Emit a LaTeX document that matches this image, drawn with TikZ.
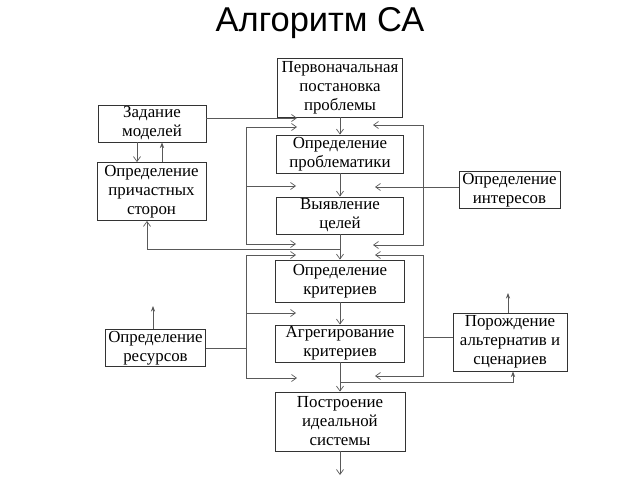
\documentclass[tikz,border=0pt]{standalone}
\usepackage{fontspec}
\setmainfont{Liberation Serif}
\newfontfamily\titlefont{Liberation Sans}
\usetikzlibrary{arrows.meta,positioning}

\begin{document}
\begin{tikzpicture}[
            x=0.025cm, y=-0.025cm,
            box/.style={draw=black!80, line width=0.6pt, inner sep=1pt, align=center,
              font=\fontsize{12}{13.5}\selectfont},
            link/.style={draw=black!65, line width=0.5pt},
            >={Straight Barb[length=3.5pt,width=5pt]},
            up/.style={-{Stealth[length=4pt,width=3pt]}}
          ]
          \useasboundingbox (0,0) rectangle (640,480);

          % Title
          \node (title) at (320,23) {\titlefont\fontsize{24.5}{28}\selectfont Алгоритм СА};

          % Nodes
          \node[box, minimum width=3.125cm, minimum height=1.475cm] (init) at (340,87.5) {Первоначальная\\постановка\\проблемы};
          \node[box, minimum width=3.175cm, minimum height=0.95cm] (probl) at (340,154) {Определение\\проблематики};
          \node[box, minimum width=3.175cm, minimum height=0.925cm] (goals) at (340,215.5) {Выявление\\целей};
          \node[box, minimum width=3.225cm, minimum height=1.05cm] (crit) at (340,281) {Определение\\критериев};
          \node[box, minimum width=3.225cm, minimum height=0.925cm] (aggr) at (340,343.5) {Агрегирование\\критериев};
          \node[box, minimum width=3.25cm, minimum height=1.475cm] (ideal) at (340,421.5) {Построение\\идеальной\\системы};

          \node[box, minimum width=2.7cm, minimum height=0.925cm] (models) at (152,123.5) {Задание\\моделей};
          \node[box, minimum width=2.725cm, minimum height=1.45cm] (parties) at (151.5,191.5) {Определение\\причастных\\сторон};
          \node[box, minimum width=2.5cm, minimum height=0.925cm] (resources) at (155.5,348) {Определение\\ресурсов};
          \node[box, minimum width=2.525cm, minimum height=0.925cm] (interests) at (509.5,190) {Определение\\интересов};
          \node[box, minimum width=2.85cm, minimum height=1.45cm] (altern) at (510,342) {Порождение\\альтернатив и\\сценариев};

          % Coordinates
          \coordinate (lu1) at (246,127);
          \coordinate (lu2) at (246,186);
          \coordinate (lu3) at (246,244);
          \coordinate (la1) at (297,127);
          \coordinate (la2) at (296,186);
          \coordinate (la3) at (296,244);
          \coordinate (ru1) at (423,125);
          \coordinate (ru3) at (423,245);
          \coordinate (ra1) at (373,125);
          \coordinate (ra3) at (373,245);
          \coordinate (ll1) at (246,255);
          \coordinate (ll2) at (246,313);
          \coordinate (ll3) at (246,378);
          \coordinate (lb1) at (296,255);
          \coordinate (lb2) at (296,313);
          \coordinate (lb3) at (297,378);
          \coordinate (rl1) at (423,255);
          \coordinate (rl3) at (423,376);
          \coordinate (rb1) at (375,255);
          \coordinate (rb3) at (375,376);
          \coordinate (m1) at (297,118);
          \coordinate (md) at (137,0);
          \coordinate (mu) at (162,0);
          \coordinate (pb) at (147,249);
          \coordinate (i1) at (375,187);
          \coordinate (a1) at (423,337);
          \coordinate (fb) at (513,382);
          \coordinate (rtop) at (153,306);
          \coordinate (atop) at (508,293);
          \coordinate (out) at (340,475);

          % Edges
          \draw[link,->] (init) -- (probl);
          \draw[link,->] (probl) -- (goals);
          \draw[link,->] (goals) -- (crit);
          \draw[link,->] (crit) -- (aggr);
          \draw[link,->] (aggr) -- (ideal);
          \draw[link,->] (ideal) -- (out);

          \draw[link,<->] (la1) -- (lu1) -- (lu3) -- (la3);
          \draw[link,->] (lu2) -- (la2);
          \draw[link,<->] (ra1) -- (ru1) -- (ru3) -- (ra3);
          \draw[link,<->] (lb1) -- (ll1) -- (ll3) -- (lb3);
          \draw[link,->] (ll2) -- (lb2);
          \draw[link,<->] (rb1) -- (rl1) -- (rl3) -- (rb3);

          \draw[link,->] (models.east |- m1) -- (m1);
          \draw[link,->] (models.south -| md) -- (parties.north -| md);
          \draw[link,up] (parties.north -| mu) -- (models.south -| mu);
          \draw[link,->] (goals.south |- pb) -- (pb) -- (parties.south -| pb);
          \draw[link,->] (interests.west |- i1) -- (i1);
          \draw[link] (resources.east) -- (resources.east -| ll1);
          \draw[link,up] (resources.north -| rtop) -- (rtop);
          \draw[link] (altern.west |- a1) -- (a1);
          \draw[link,up] (altern.north -| atop) -- (atop);
          \draw[link,up] (aggr.south |- fb) -- (fb) -- (altern.south -| fb);

        \end{tikzpicture}
\end{document}
